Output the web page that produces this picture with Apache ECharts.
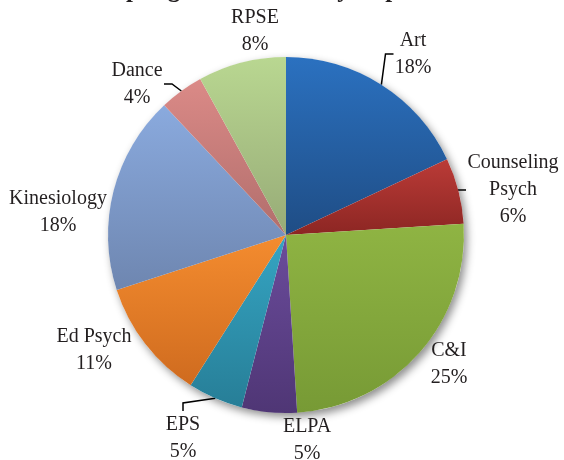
<!DOCTYPE html>
<html>
<head>
<meta charset="utf-8">
<script src="https://cdn.jsdelivr.net/npm/echarts@6/dist/echarts.min.js"></script>
<style>html,body{margin:0;padding:0;background:#fff;}#c{width:564px;height:460px;}</style>
</head>
<body>
<div id="c"></div>
<script>
var titleText = 'Sampling Distribution by Department';
var categories = ['Art', 'Counseling Psych', 'C&I', 'ELPA', 'EPS', 'Ed Psych', 'Kinesiology', 'Dance', 'RPSE'];
var values = [18, 6, 25, 5, 5, 11, 18, 4, 8];

var gradTop = ['#2b71c0', '#bb3b37', '#8fb443', '#6b4c9c', '#35a5c3', '#f48c2f', '#8aaade', '#db8a87', '#b9d791'];
var gradBot = ['#1f4d85', '#8c2623', '#779a35', '#4f3675', '#277e97', '#cf6b1f', '#6e86b0', '#b16e6c', '#97ab77'];
var showLine = {'Art': true, 'Counseling Psych': true, 'Dance': true, 'EPS': true};
var labelPos = {
  'Art': [413, 54], 'Counseling Psych': [513, 190], 'C&I': [449, 364], 'ELPA': [307, 440],
  'EPS': [183, 438], 'Ed Psych': [94, 350], 'Kinesiology': [58, 212], 'Dance': [137, 84], 'RPSE': [255, 31]
};
var labelFont = '20px "Liberation Serif"';
var total = values.reduce(function (a, b) { return a + b; }, 0);

function labelText(name, value) {
  var n = name === 'Counseling Psych' ? 'Counseling\nPsych' : name;
  return n + '\n' + Math.round(value / total * 100) + '%';
}
var measureCtx = document.createElement('canvas').getContext('2d');
measureCtx.font = labelFont;
function textWidth(s) {
  return Math.max.apply(null, s.split('\n').map(function (l) { return measureCtx.measureText(l).width; }));
}

var data = categories.map(function (c, i) {
  return {
    name: c,
    value: values[i],
    itemStyle: {
      color: new echarts.graphic.LinearGradient(0, 0, 0, 1, [
        {offset: 0, color: gradTop[i]}, {offset: 1, color: gradBot[i]}
      ])
    },
    label: {width: Math.ceil(textWidth(labelText(c, values[i]))) + 2},
    labelLine: {show: !!showLine[c]}
  };
});

var chart = echarts.init(document.getElementById('c'), null, {renderer: 'canvas'});
chart.setOption({
  animation: false,
  backgroundColor: '#ffffff',
  title: {
    text: titleText,
    left: 'center',
    top: -27,
    textStyle: {fontFamily: 'Liberation Serif', fontWeight: 'bold', fontSize: 25, color: '#231f20'}
  },
  series: [
    {
      type: 'pie',
      silent: true,
      center: [286, 235],
      radius: 178,
      z: 1,
      label: {show: false},
      labelLine: {show: false},
      itemStyle: {color: '#ffffff', shadowBlur: 8, shadowOffsetX: 3, shadowOffsetY: 4, shadowColor: 'rgba(0,0,0,0.45)'},
      data: [{value: 1, name: ''}]
    },
    {
      type: 'pie',
      center: [286, 235],
      radius: 178,
      startAngle: 90,
      clockwise: true,
      z: 2,
      itemStyle: {borderWidth: 0},
      label: {
        show: true,
        position: 'outside',
        fontFamily: 'Liberation Serif',
        fontSize: 20,
        lineHeight: 27,
        color: '#231f20',
        align: 'center',
        overflow: 'none',
        formatter: function (p) {
          return labelText(p.name, p.value);
        }
      },
      labelLine: {length: 8, length2: 8, lineStyle: {color: '#000000', width: 1.5}},
      labelLayout: function (params) {
        var name = categories[params.dataIndex];
        var pos = labelPos[name];
        return {x: pos[0], y: pos[1], align: 'center', verticalAlign: 'middle'};
      },
      data: data
    }
  ]
});
</script>
</body>
</html>
